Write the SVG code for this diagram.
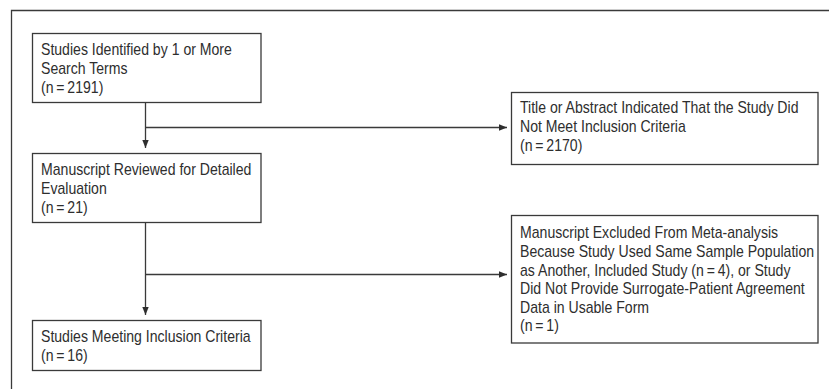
<svg xmlns="http://www.w3.org/2000/svg" width="829" height="389" viewBox="0 0 829 389">
<defs>
<style>
.box{fill:#fff;stroke:#3a3a3a;stroke-width:1.3}
.ln{fill:none;stroke:#3a3a3a;stroke-width:1.3}
text{font-family:"Liberation Sans",Arial,sans-serif;font-size:16px;fill:#2e2e2e}
</style>
<marker id="ah" markerUnits="userSpaceOnUse" markerWidth="8" markerHeight="8" viewBox="0 0 8 8" refX="8" refY="4" orient="auto">
<path d="M0,0.8 L8,4 L0,7.2 Z" fill="#2e2e2e"/>
</marker>
</defs>
<rect width="829" height="389" fill="#fff"/>
<path class="ln" d="M11.5,389 V10.5 H829"/>
<g id="connectors">
<path class="ln" d="M145.5,102.5 V148" marker-end="url(#ah)"/>
<path class="ln" d="M145.5,127.5 H507" marker-end="url(#ah)"/>
<path class="ln" d="M145.5,222.5 V315" marker-end="url(#ah)"/>
<path class="ln" d="M145.5,274.5 H507" marker-end="url(#ah)"/>
</g>
<g id="n1">
<rect class="box" x="32.5" y="33.5" width="228.5" height="69"/>
<text transform="matrix(0.88 0 0 1 41 55)">Studies Identified by 1 or More</text>
<text transform="matrix(0.88 0 0 1 41 74)">Search Terms</text>
<text transform="matrix(0.88 0 0 1 41 93)">(n&#8201;=&#8201;2191)</text>
</g>
<g id="n2">
<rect class="box" x="32.5" y="153.5" width="228.5" height="69"/>
<text transform="matrix(0.88 0 0 1 41 175)">Manuscript Reviewed for Detailed</text>
<text transform="matrix(0.88 0 0 1 41 194)">Evaluation</text>
<text transform="matrix(0.88 0 0 1 41 213)">(n&#8201;=&#8201;21)</text>
</g>
<g id="n3">
<rect class="box" x="32.5" y="320.5" width="228.5" height="50"/>
<text transform="matrix(0.88 0 0 1 41 342)">Studies Meeting Inclusion Criteria</text>
<text transform="matrix(0.88 0 0 1 41 361)">(n&#8201;=&#8201;16)</text>
</g>
<g id="n4">
<rect class="box" x="511.5" y="92.5" width="306.5" height="72"/>
<text transform="matrix(0.88 0 0 1 520 113)">Title or Abstract Indicated That the Study Did</text>
<text transform="matrix(0.88 0 0 1 520 132)">Not Meet Inclusion Criteria</text>
<text transform="matrix(0.88 0 0 1 520 151)">(n&#8201;=&#8201;2170)</text>
</g>
<g id="n5">
<rect class="box" x="511.5" y="215.5" width="306.5" height="127.5"/>
<text transform="matrix(0.88 0 0 1 520 238)">Manuscript Excluded From Meta-analysis</text>
<text transform="matrix(0.88 0 0 1 520 257)">Because Study Used Same Sample Population</text>
<text transform="matrix(0.88 0 0 1 520 275.5)">as Another, Included Study (n&#8201;=&#8201;4), or Study</text>
<text transform="matrix(0.88 0 0 1 520 294)">Did Not Provide Surrogate-Patient Agreement</text>
<text transform="matrix(0.88 0 0 1 520 312.5)">Data in Usable Form</text>
<text transform="matrix(0.88 0 0 1 520 331)">(n&#8201;=&#8201;1)</text>
</g>
</svg>
